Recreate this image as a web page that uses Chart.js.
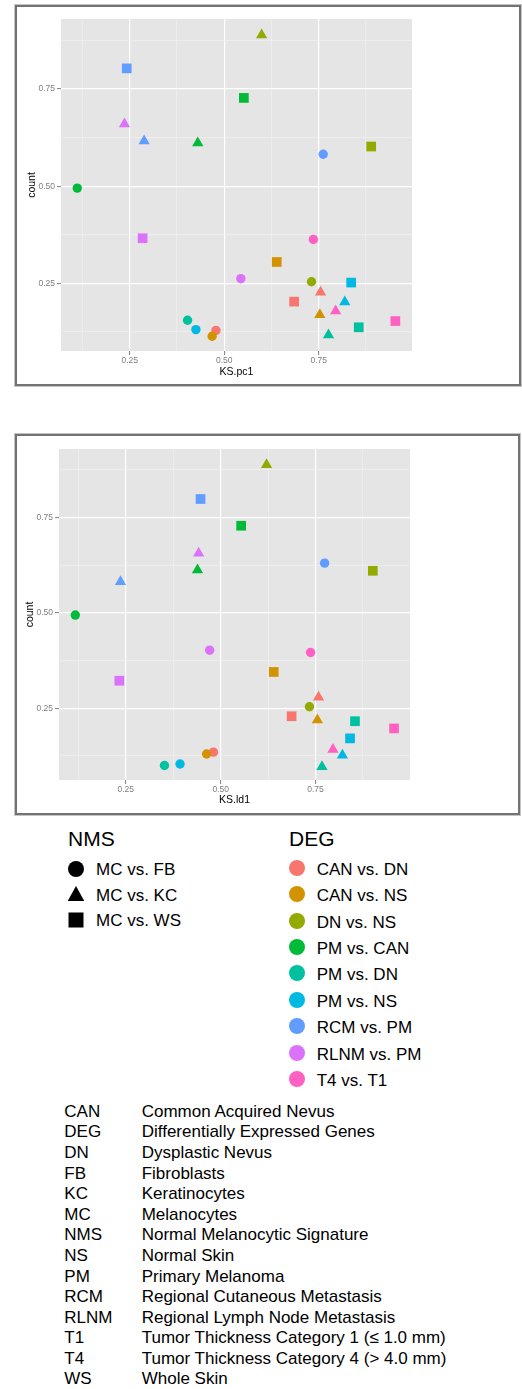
<!DOCTYPE html>
<html>
<head>
<meta charset="utf-8">
<script src="https://cdn.jsdelivr.net/npm/chart.js@4.4.1/dist/chart.umd.min.js"></script>
<style>
  body { margin: 0; background: #fff; font-family: "Liberation Sans", Arial, sans-serif; width: 522px; height: 1389px; position: relative; overflow: hidden; }
  .frame { position: absolute; left: 15px; border: 2px solid #737373; box-shadow: 0 0 0 1px #c4c4c4; background: #fff; }
  .frame canvas { display: block; }
  .t { position: absolute; white-space: nowrap; color: #000; }
  svg.sym { position: absolute; overflow: visible; }
</style>
</head>
<body>
<div class="frame" style="top:5px;width:502px;height:377px"><canvas id="c1" width="502" height="377"></canvas></div>
<div class="frame" style="top:434px;width:501px;height:377px"><canvas id="c2" width="501" height="377"></canvas></div>
<script>
// groups (colour = DEG, shape = NMS)
const degGroups = ['CAN vs. DN', 'CAN vs. NS', 'DN vs. NS', 'PM vs. CAN', 'PM vs. DN', 'PM vs. NS', 'RCM vs. PM', 'RLNM vs. PM', 'T4 vs. T1'];
const degColors = ['#F8766D', '#D39200', '#93AA00', '#00BA38', '#00C19F', '#00B9E3', '#619CFF', '#DB72FB', '#FF61C3'];
const nmsGroups = ['MC vs. FB', 'MC vs. KC', 'MC vs. WS'];
const nmsShapes = ['circle', 'triangle', 'rect'];

// KS.pc1 chart, one entry per DEG group
const pc1FBx = [0.478, 0.468, 0.731, 0.111, 0.403, 0.425, 0.762, 0.544, 0.736];
const pc1FBy = [0.129, 0.114, 0.254, 0.495, 0.155, 0.131, 0.582, 0.262, 0.363];
const pc1KCx = [0.755, 0.753, 0.599, 0.430, 0.776, 0.819, 0.288, 0.236, 0.795];
const pc1KCy = [0.227, 0.169, 0.889, 0.611, 0.117, 0.202, 0.616, 0.660, 0.179];
const pc1WSx = [0.685, 0.639, 0.889, 0.552, 0.856, 0.836, 0.242, 0.284, 0.953];
const pc1WSy = [0.203, 0.305, 0.602, 0.727, 0.137, 0.252, 0.803, 0.366, 0.153];

// KS.ld1 chart
const ld1FBx = [0.481, 0.463, 0.734, 0.117, 0.352, 0.393, 0.774, 0.471, 0.737];
const ld1FBy = [0.135, 0.130, 0.254, 0.494, 0.100, 0.104, 0.630, 0.402, 0.396];
const ld1KCx = [0.758, 0.755, 0.621, 0.439, 0.767, 0.821, 0.236, 0.442, 0.796];
const ld1KCy = [0.279, 0.219, 0.888, 0.612, 0.097, 0.127, 0.581, 0.656, 0.142];
const ld1WSx = [0.687, 0.640, 0.901, 0.554, 0.854, 0.841, 0.447, 0.233, 0.957];
const ld1WSy = [0.229, 0.345, 0.610, 0.728, 0.216, 0.171, 0.798, 0.322, 0.197];

// ticks
const majorTicks = [0.25, 0.5, 0.75];
const tickLabels = ['0.25', '0.50', '0.75'];
const minorTicks = [0.125, 0.375, 0.625, 0.875];

// abbreviations
const abbrs = ['CAN', 'DEG', 'DN', 'FB', 'KC', 'MC', 'NMS', 'NS', 'PM', 'RCM', 'RLNM', 'T1', 'T4', 'WS'];
const abbrText = ['Common Acquired Nevus', 'Differentially Expressed Genes', 'Dysplastic Nevus', 'Fibroblasts',
  'Keratinocytes', 'Melanocytes', 'Normal Melanocytic Signature', 'Normal Skin', 'Primary Melanoma',
  'Regional Cutaneous Metastasis', 'Regional Lymph Node Metastasis', 'Tumor Thickness Category 1 (\u2264 1.0 mm)',
  'Tumor Thickness Category 4 (> 4.0 mm)', 'Whole Skin'];

const FONT = '"Liberation Sans", Arial, sans-serif';
Chart.defaults.font.family = FONT;

const isMajor = v => majorTicks.some(m => Math.abs(m - v) < 1e-6);
const allTicks = majorTicks.concat(minorTicks).sort((a, b) => a - b);

const panelBg = {
  id: 'panelBg',
  beforeDraw(chart) {
    const a = chart.chartArea, c = chart.ctx;
    c.save();
    c.fillStyle = '#e5e5e5';
    c.fillRect(a.left, a.top, a.right - a.left, a.bottom - a.top);
    c.restore();
  }
};

function axis(min, max, title, isX, size, titlePad) {
  return {
    type: 'linear', min: min, max: max,
    afterBuildTicks: s => { s.ticks = allTicks.map(v => ({ value: v })); },
    afterFit: s => { if (isX) s.height = size; else s.width = size; },
    ticks: {
      autoSkip: false, maxRotation: 0, padding: isX ? 1 : 2,
      color: '#7f7f7f', font: { size: 8.5 },
      callback: v => { const i = majorTicks.findIndex(m => Math.abs(m - v) < 1e-6); return i < 0 ? '' : tickLabels[i]; }
    },
    grid: {
      color: c => isMajor(c.tick.value) ? '#ffffff' : '#f2f2f2',
      lineWidth: c => isMajor(c.tick.value) ? 1.2 : 0.6,
      drawTicks: true, tickLength: 4, tickWidth: 1,
      tickColor: c => isMajor(c.tick.value) ? '#7f7f7f' : 'rgba(0,0,0,0)'
    },
    border: { display: false },
    title: { display: true, text: title, color: '#000', font: { size: 10.5 }, padding: titlePad }
  };
}

function makeChart(id, fx, fy, kx, ky, wx, wy, xr, yr, xTitle, pad, yWidth, xHeight, xTitlePad, yTitlePad) {
  const datasets = degGroups.map((g, i) => ({
    label: g,
    data: [{ x: fx[i], y: fy[i] }, { x: kx[i], y: ky[i] }, { x: wx[i], y: wy[i] }],
    pointStyle: nmsShapes,
    pointRadius: [4.7, 6.5, 6.85],
    backgroundColor: degColors[i],
    borderWidth: 0,
    order: degGroups.length - i
  }));
  return new Chart(document.getElementById(id), {
    type: 'scatter',
    data: { datasets: datasets },
    options: {
      responsive: false, animation: false, events: [],
      layout: { padding: pad },
      plugins: { legend: { display: false }, tooltip: { enabled: false } },
      scales: {
        x: axis(xr[0], xr[1], xTitle, true, xHeight, xTitlePad),
        y: axis(yr[0], yr[1], 'count', false, yWidth, yTitlePad)
      }
    },
    plugins: [panelBg]
  });
}

makeChart('c1', pc1FBx, pc1FBy, pc1KCx, pc1KCy, pc1WSx, pc1WSy, [0.068, 0.997], [0.076, 0.93], 'KS.pc1',
  { left: 0, top: 12, right: 107, bottom: 0 }, 44, 33, { top: 0, bottom: 6 }, { top: 9, bottom: 0 });
makeChart('c2', ld1FBx, ld1FBy, ld1KCx, ld1KCy, ld1WSx, ld1WSy, [0.074, 0.999], [0.062, 0.929], 'KS.ld1',
  { left: 0, top: 13, right: 108, bottom: 0 }, 42, 33, { top: 0, bottom: 7 }, { top: 7, bottom: 0 });

// legends and abbreviation table
function addText(txt, left, cy, size) {
  const d = document.createElement('div');
  d.className = 't';
  d.textContent = txt;
  d.style.left = left + 'px';
  d.style.top = (cy - size / 2) + 'px';
  d.style.fontSize = size + 'px';
  d.style.lineHeight = size + 'px';
  document.body.appendChild(d);
}
function addSymbol(shape, cx, cy, color) {
  const ns = 'http://www.w3.org/2000/svg';
  const svg = document.createElementNS(ns, 'svg');
  svg.setAttribute('class', 'sym');
  svg.setAttribute('width', 20); svg.setAttribute('height', 20);
  svg.style.left = (cx - 10) + 'px'; svg.style.top = (cy - 10) + 'px';
  let el;
  if (shape === 'circle') {
    el = document.createElementNS(ns, 'circle');
    el.setAttribute('cx', 10); el.setAttribute('cy', 10); el.setAttribute('r', 8);
  } else if (shape === 'triangle') {
    el = document.createElementNS(ns, 'polygon');
    el.setAttribute('points', '10,2 18.3,17 1.7,17');
  } else {
    el = document.createElementNS(ns, 'rect');
    el.setAttribute('x', 2.5); el.setAttribute('y', 2.5); el.setAttribute('width', 15); el.setAttribute('height', 15);
  }
  el.setAttribute('fill', color);
  svg.appendChild(el);
  document.body.appendChild(svg);
}

addText('NMS', 68, 838, 21);
nmsGroups.forEach((g, i) => {
  const cy = 869.5 + i * 25.7;
  addSymbol(nmsShapes[i], 75.7, cy - 1, '#000');
  addText(g, 96, cy, 17);
});
addText('DEG', 289, 838, 21);
degGroups.forEach((g, i) => {
  const cy = 869.3 + i * 26.42;
  addSymbol('circle', 296.7, cy - 1.5, degColors[i]);
  addText(g, 316.7, cy, 17);
});
abbrs.forEach((a, i) => {
  const cy = 1111.3 + i * 20.59;
  addText(a, 64.3, cy, 17);
  addText(abbrText[i], 141.7, cy, 17);
});
</script>
</body>
</html>
